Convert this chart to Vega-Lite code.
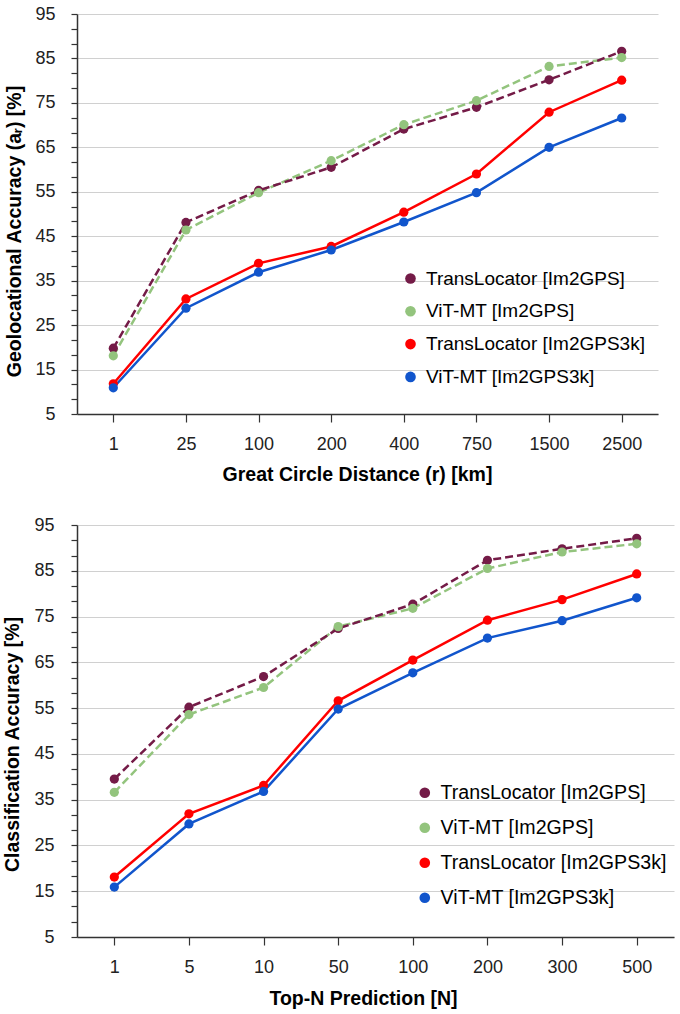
{
  "$schema": "https://vega.github.io/schema/vega-lite/v6.json",
  "padding": {"top": 5, "left": 2, "right": 5, "bottom": 5},
  "background": "white",
  "spacing": 32,
  "align": "none",
  "resolve": {
    "scale": {"color": "independent"},
    "legend": {"color": "independent"}
  },
  "config": {
    "view": {"stroke": null},
    "font": "Liberation Sans",
    "axis": {
      "labelFont": "Liberation Sans",
      "titleFont": "Liberation Sans",
      "labelFontSize": 18,
      "titleFontSize": 19.5,
      "titleFontWeight": "bold",
      "labelColor": "#222222",
      "titleColor": "#000000",
      "domainColor": "#333333",
      "tickColor": "#333333",
      "domainWidth": 1.5,
      "tickWidth": 1.2,
      "gridColor": "#d0d0d0",
      "gridWidth": 1
    },
    "legend": {
      "labelFont": "Liberation Sans",
      "labelColor": "#000000",
      "labelLimit": 0
    }
  },
  "datasets": {
    "geo": [
      {"series": "TransLocator [Im2GPS]", "r": "1", "acc": 19.8},
      {"series": "TransLocator [Im2GPS]", "r": "25", "acc": 48.1},
      {"series": "TransLocator [Im2GPS]", "r": "100", "acc": 55.3},
      {"series": "TransLocator [Im2GPS]", "r": "200", "acc": 60.5},
      {"series": "TransLocator [Im2GPS]", "r": "400", "acc": 69.1},
      {"series": "TransLocator [Im2GPS]", "r": "750", "acc": 74.0},
      {"series": "TransLocator [Im2GPS]", "r": "1500", "acc": 80.2},
      {"series": "TransLocator [Im2GPS]", "r": "2500", "acc": 86.6},
      {"series": "ViT-MT [Im2GPS]", "r": "1", "acc": 18.1},
      {"series": "ViT-MT [Im2GPS]", "r": "25", "acc": 46.4},
      {"series": "ViT-MT [Im2GPS]", "r": "100", "acc": 54.8},
      {"series": "ViT-MT [Im2GPS]", "r": "200", "acc": 62.0},
      {"series": "ViT-MT [Im2GPS]", "r": "400", "acc": 70.1},
      {"series": "ViT-MT [Im2GPS]", "r": "750", "acc": 75.5},
      {"series": "ViT-MT [Im2GPS]", "r": "1500", "acc": 83.2},
      {"series": "ViT-MT [Im2GPS]", "r": "2500", "acc": 85.2},
      {"series": "TransLocator [Im2GPS3k]", "r": "1", "acc": 11.8},
      {"series": "TransLocator [Im2GPS3k]", "r": "25", "acc": 30.9},
      {"series": "TransLocator [Im2GPS3k]", "r": "100", "acc": 38.9},
      {"series": "TransLocator [Im2GPS3k]", "r": "200", "acc": 42.7},
      {"series": "TransLocator [Im2GPS3k]", "r": "400", "acc": 50.4},
      {"series": "TransLocator [Im2GPS3k]", "r": "750", "acc": 59.0},
      {"series": "TransLocator [Im2GPS3k]", "r": "1500", "acc": 72.9},
      {"series": "TransLocator [Im2GPS3k]", "r": "2500", "acc": 80.1},
      {"series": "ViT-MT [Im2GPS3k]", "r": "1", "acc": 10.9},
      {"series": "ViT-MT [Im2GPS3k]", "r": "25", "acc": 28.8},
      {"series": "ViT-MT [Im2GPS3k]", "r": "100", "acc": 36.9},
      {"series": "ViT-MT [Im2GPS3k]", "r": "200", "acc": 41.9},
      {"series": "ViT-MT [Im2GPS3k]", "r": "400", "acc": 48.2},
      {"series": "ViT-MT [Im2GPS3k]", "r": "750", "acc": 54.8},
      {"series": "ViT-MT [Im2GPS3k]", "r": "1500", "acc": 65.0},
      {"series": "ViT-MT [Im2GPS3k]", "r": "2500", "acc": 71.6}
    ],
    "cls": [
      {"series": "TransLocator [Im2GPS]", "n": "1", "acc": 39.5},
      {"series": "TransLocator [Im2GPS]", "n": "5", "acc": 55.2},
      {"series": "TransLocator [Im2GPS]", "n": "10", "acc": 61.9},
      {"series": "TransLocator [Im2GPS]", "n": "50", "acc": 72.4},
      {"series": "TransLocator [Im2GPS]", "n": "100", "acc": 77.7},
      {"series": "TransLocator [Im2GPS]", "n": "200", "acc": 87.3},
      {"series": "TransLocator [Im2GPS]", "n": "300", "acc": 89.8},
      {"series": "TransLocator [Im2GPS]", "n": "500", "acc": 92.1},
      {"series": "ViT-MT [Im2GPS]", "n": "1", "acc": 36.6},
      {"series": "ViT-MT [Im2GPS]", "n": "5", "acc": 53.6},
      {"series": "ViT-MT [Im2GPS]", "n": "10", "acc": 59.5},
      {"series": "ViT-MT [Im2GPS]", "n": "50", "acc": 72.8},
      {"series": "ViT-MT [Im2GPS]", "n": "100", "acc": 76.8},
      {"series": "ViT-MT [Im2GPS]", "n": "200", "acc": 85.5},
      {"series": "ViT-MT [Im2GPS]", "n": "300", "acc": 89.1},
      {"series": "ViT-MT [Im2GPS]", "n": "500", "acc": 90.9},
      {"series": "TransLocator [Im2GPS3k]", "n": "1", "acc": 18.1},
      {"series": "TransLocator [Im2GPS3k]", "n": "5", "acc": 31.9},
      {"series": "TransLocator [Im2GPS3k]", "n": "10", "acc": 38.1},
      {"series": "TransLocator [Im2GPS3k]", "n": "50", "acc": 56.6},
      {"series": "TransLocator [Im2GPS3k]", "n": "100", "acc": 65.5},
      {"series": "TransLocator [Im2GPS3k]", "n": "200", "acc": 74.2},
      {"series": "TransLocator [Im2GPS3k]", "n": "300", "acc": 78.7},
      {"series": "TransLocator [Im2GPS3k]", "n": "500", "acc": 84.3},
      {"series": "ViT-MT [Im2GPS3k]", "n": "1", "acc": 15.9},
      {"series": "ViT-MT [Im2GPS3k]", "n": "5", "acc": 29.7},
      {"series": "ViT-MT [Im2GPS3k]", "n": "10", "acc": 36.8},
      {"series": "ViT-MT [Im2GPS3k]", "n": "50", "acc": 54.8},
      {"series": "ViT-MT [Im2GPS3k]", "n": "100", "acc": 62.7},
      {"series": "ViT-MT [Im2GPS3k]", "n": "200", "acc": 70.3},
      {"series": "ViT-MT [Im2GPS3k]", "n": "300", "acc": 74.1},
      {"series": "ViT-MT [Im2GPS3k]", "n": "500", "acc": 79.1}
    ]
  },
  "vconcat": [
    {
      "width": 581,
      "height": 400,
      "data": {"name": "geo"},
      "encoding": {
        "x": {
          "field": "r",
          "type": "ordinal",
          "sort": ["1", "25", "100", "200", "400", "750", "1500", "2500"],
          "title": "Great Circle Distance (r) [km]",
          "axis": {"labelAngle": 0, "tickSize": 8, "labelPadding": 13, "titlePadding": 12, "grid": false, "titleX": 280}
        },
        "y": {
          "field": "acc",
          "type": "quantitative",
          "scale": {"domain": [5, 95], "nice": false, "zero": false},
          "title": "Geolocational Accuracy (aᵣ) [%]",
          "axis": {
            "values": [5, 8.3333, 11.6667, 15, 18.3333, 21.6667, 25, 28.3333, 31.6667, 35, 38.3333, 41.6667, 45, 48.3333, 51.6667, 55, 58.3333, 61.6667, 65, 68.3333, 71.6667, 75, 78.3333, 81.6667, 85, 88.3333, 91.6667, 95],
            "labelExpr": "datum.value % 10 == 5 ? datum.label : ''",
            "gridOpacity": {"condition": {"test": "datum.value % 10 != 5", "value": 0}, "value": 1},
            "tickSize": 6,
            "labelPadding": 16,
            "titlePadding": 10,
            "titleY": 217
          }
        }
      },
      "layer": [
        {
          "transform": [{"filter": "datum.series == 'ViT-MT [Im2GPS3k]'"}],
          "mark": {"type": "line", "strokeWidth": 2.5, "color": "#1155cc"}
        },
        {
          "transform": [{"filter": "datum.series == 'TransLocator [Im2GPS3k]'"}],
          "mark": {"type": "line", "strokeWidth": 2.5, "color": "#ff0000"}
        },
        {
          "transform": [{"filter": "datum.series == 'ViT-MT [Im2GPS]'"}],
          "mark": {"type": "line", "strokeWidth": 2.5, "color": "#93c47d", "strokeDash": [8, 4]}
        },
        {
          "transform": [{"filter": "datum.series == 'TransLocator [Im2GPS]'"}],
          "mark": {"type": "line", "strokeWidth": 2.5, "color": "#741b47", "strokeDash": [8, 4]}
        },
        {
          "mark": {"type": "point", "filled": true, "size": 85, "opacity": 1},
          "encoding": {
            "color": {
              "field": "series",
              "type": "nominal",
              "scale": {
                "domain": ["TransLocator [Im2GPS]", "ViT-MT [Im2GPS]", "TransLocator [Im2GPS3k]", "ViT-MT [Im2GPS3k]"],
                "range": ["#741b47", "#93c47d", "#ff0000", "#1155cc"]
              },
              "legend": {
                "title": null,
                "orient": "none",
                "legendX": 324,
                "legendY": 255,
                "direction": "vertical",
                "symbolType": "circle",
                "symbolSize": 113,
                "labelFontSize": 19,
                "rowPadding": 12.8,
                "labelOffset": 6,
                "labelLimit": 0,
                "padding": 0
              }
            }
          }
        }
      ]
    },
    {
      "width": 597,
      "height": 412,
      "data": {"name": "cls"},
      "encoding": {
        "x": {
          "field": "n",
          "type": "ordinal",
          "sort": ["1", "5", "10", "50", "100", "200", "300", "500"],
          "title": "Top-N Prediction [N]",
          "axis": {"labelAngle": 0, "tickSize": 8, "labelPadding": 13, "titlePadding": 13, "grid": false, "titleX": 286}
        },
        "y": {
          "field": "acc",
          "type": "quantitative",
          "scale": {"domain": [5, 95], "nice": false, "zero": false},
          "title": "Classification Accuracy [%]",
          "axis": {
            "values": [5, 8.3333, 11.6667, 15, 18.3333, 21.6667, 25, 28.3333, 31.6667, 35, 38.3333, 41.6667, 45, 48.3333, 51.6667, 55, 58.3333, 61.6667, 65, 68.3333, 71.6667, 75, 78.3333, 81.6667, 85, 88.3333, 91.6667, 95],
            "labelExpr": "datum.value % 10 == 5 ? datum.label : ''",
            "gridOpacity": {"condition": {"test": "datum.value % 10 != 5", "value": 0}, "value": 1},
            "tickSize": 6,
            "labelPadding": 17,
            "titlePadding": 11,
            "titleY": 219
          }
        }
      },
      "layer": [
        {
          "transform": [{"filter": "datum.series == 'ViT-MT [Im2GPS3k]'"}],
          "mark": {"type": "line", "strokeWidth": 2.5, "color": "#1155cc"}
        },
        {
          "transform": [{"filter": "datum.series == 'TransLocator [Im2GPS3k]'"}],
          "mark": {"type": "line", "strokeWidth": 2.5, "color": "#ff0000"}
        },
        {
          "transform": [{"filter": "datum.series == 'ViT-MT [Im2GPS]'"}],
          "mark": {"type": "line", "strokeWidth": 2.5, "color": "#93c47d", "strokeDash": [8, 4]}
        },
        {
          "transform": [{"filter": "datum.series == 'TransLocator [Im2GPS]'"}],
          "mark": {"type": "line", "strokeWidth": 2.5, "color": "#741b47", "strokeDash": [8, 4]}
        },
        {
          "mark": {"type": "point", "filled": true, "size": 85, "opacity": 1},
          "encoding": {
            "color": {
              "field": "series",
              "type": "nominal",
              "scale": {
                "domain": ["TransLocator [Im2GPS]", "ViT-MT [Im2GPS]", "TransLocator [Im2GPS3k]", "ViT-MT [Im2GPS3k]"],
                "range": ["#741b47", "#93c47d", "#ff0000", "#1155cc"]
              },
              "legend": {
                "title": null,
                "orient": "none",
                "legendX": 338,
                "legendY": 258,
                "direction": "vertical",
                "symbolType": "circle",
                "symbolSize": 113,
                "labelFontSize": 19.6,
                "rowPadding": 14,
                "labelOffset": 6,
                "labelLimit": 0,
                "padding": 0
              }
            }
          }
        }
      ]
    }
  ]
}
